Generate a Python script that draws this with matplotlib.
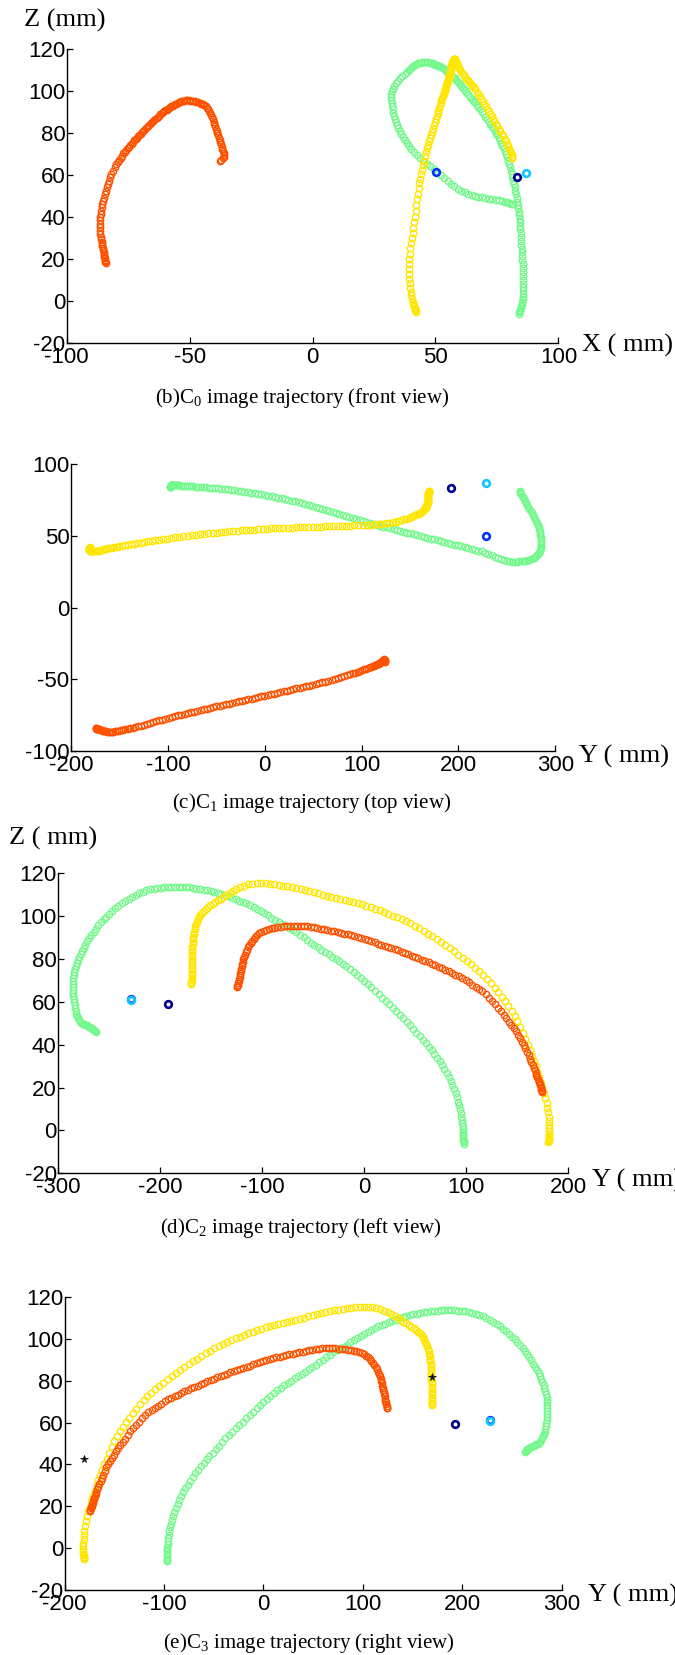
import matplotlib
matplotlib.use('Agg')
import matplotlib.pyplot as plt
from matplotlib import font_manager

# ---------------- data (3-D trajectories, mm) ----------------
ORANGE_Y = [-174.5, -174.1, -173.7, -173.3, -172.9, -172.4, -171.9, -171.4, -170.8, -170.2,
            -169.5, -168.8, -168.0, -167.1, -166.1, -165.0, -163.8, -162.5, -161.1, -159.6,
            -158.0, -156.3, -154.5, -152.6, -150.6, -148.5, -146.3, -144.0, -141.6, -139.1,
            -136.5, -133.8, -131.0, -128.1, -125.1, -122.0, -118.9, -115.7, -112.5, -109.2,
            -105.9, -102.6, -99.3, -96.0, -92.7, -89.4, -86.1, -82.8, -79.5, -76.2,
            -72.9, -69.6, -66.3, -63.0, -59.7, -56.4, -53.1, -49.8, -46.5, -43.2,
            -39.9, -36.6, -33.3, -30.0, -26.7, -23.4, -20.1, -16.8, -13.5, -10.2,
            -6.9, -3.6, -0.3, 3.0, 6.3, 9.6, 12.9, 16.2, 19.5, 22.8,
            26.1, 29.4, 32.7, 36.0, 39.3, 42.6, 45.9, 49.2, 52.5, 55.8,
            59.1, 62.4, 65.7, 69.0, 72.3, 75.6, 78.9, 82.0, 85.0, 88.0,
            90.8, 93.5, 96.1, 98.6, 100.9, 103.0, 105.0, 106.8, 108.5, 110.0,
            111.4, 112.7, 113.9, 115.0, 116.0, 116.9, 117.7, 118.4, 119.0, 119.6,
            120.1, 120.6, 121.0, 121.4, 121.8, 122.2, 122.6, 123.0, 123.4, 123.8,
            124.2, 124.5]
ORANGE_X = [-84.2, -84.3, -84.4, -84.5, -84.6, -84.7, -84.8, -84.9, -85.0, -85.2,
            -85.3, -85.5, -85.6, -85.8, -86.0, -86.1, -86.3, -86.4, -86.5, -86.5,
            -86.5, -86.4, -86.2, -86.0, -85.8, -85.5, -85.2, -84.9, -84.5, -84.1,
            -83.7, -83.3, -82.8, -82.3, -81.8, -81.2, -80.5, -79.9, -79.3, -78.7,
            -78.1, -77.5, -76.9, -76.3, -75.7, -75.2, -74.6, -74.1, -73.5, -73.0,
            -72.5, -72.0, -71.4, -70.9, -70.4, -69.9, -69.4, -68.9, -68.4, -67.9,
            -67.4, -66.9, -66.4, -65.9, -65.4, -64.9, -64.4, -63.9, -63.4, -62.9,
            -62.4, -61.9, -61.4, -60.9, -60.4, -59.9, -59.4, -58.9, -58.4, -57.9,
            -57.4, -56.9, -56.4, -55.9, -55.4, -54.9, -54.4, -53.9, -53.4, -52.8,
            -52.2, -51.6, -51.0, -50.4, -49.8, -49.2, -48.6, -48.0, -47.3, -46.6,
            -45.9, -45.3, -44.7, -44.1, -43.5, -43.0, -42.5, -42.0, -41.6, -41.2,
            -40.8, -40.5, -40.2, -39.9, -39.6, -39.3, -39.0, -38.7, -38.4, -38.1,
            -37.8, -37.5, -37.2, -37.0, -36.7, -36.4, -36.2, -36.1, -36.2, -36.6,
            -37.1, -37.7]
ORANGE_Z = [17.8, 18.4, 19.0, 19.6, 20.2, 21.0, 21.7, 22.5, 23.3, 24.1,
            25.0, 25.9, 26.9, 28.1, 29.3, 30.6, 31.9, 33.4, 35.0, 36.7,
            38.6, 40.0, 41.5, 43.0, 44.6, 46.3, 47.7, 49.2, 50.7, 52.3,
            54.1, 55.8, 57.3, 58.8, 60.4, 62.0, 63.6, 65.0, 66.0, 67.0,
            68.1, 69.1, 70.2, 71.1, 71.9, 72.6, 73.4, 74.2, 74.9, 75.7,
            76.4, 77.0, 77.7, 78.4, 79.0, 79.7, 80.4, 81.0, 81.6, 82.2,
            82.8, 83.4, 84.0, 84.6, 85.1, 85.6, 86.2, 86.7, 87.2, 87.8,
            88.3, 88.8, 89.4, 89.9, 90.3, 90.7, 91.1, 91.5, 91.8, 92.2,
            92.6, 93.0, 93.3, 93.6, 93.9, 94.2, 94.5, 94.8, 95.1, 95.3,
            95.4, 95.5, 95.5, 95.5, 95.4, 95.3, 95.2, 95.0, 94.8, 94.6,
            94.3, 94.0, 93.6, 93.2, 92.7, 92.0, 91.2, 90.4, 89.5, 88.6,
            87.6, 86.5, 85.4, 84.3, 83.2, 82.1, 81.0, 79.9, 78.8, 77.7,
            76.6, 75.5, 74.5, 73.5, 72.5, 71.5, 70.5, 69.6, 68.7, 67.9,
            67.2, 66.8]

YELLOW_Y = [-180.5, -180.6, -180.7, -180.8, -180.9, -181.0, -181.1, -181.2, -181.2, -181.1,
            -180.9, -180.6, -180.1, -179.5, -178.7, -177.6, -176.2, -174.5, -173.0, -171.3,
            -169.6, -167.9, -166.1, -164.2, -162.2, -160.1, -157.8, -155.4, -152.8, -150.1,
            -147.3, -144.4, -141.3, -138.1, -134.8, -131.4, -127.9, -124.3, -120.6, -116.8,
            -112.9, -108.9, -104.8, -100.7, -96.5, -92.3, -88.1, -83.9, -79.6, -75.3,
            -71.0, -66.7, -62.4, -58.1, -53.8, -49.5, -45.2, -40.9, -36.6, -32.3,
            -28.0, -23.7, -19.4, -15.1, -10.8, -6.5, -2.2, 2.1, 6.4, 10.7,
            15.0, 19.3, 23.6, 27.9, 32.2, 36.5, 40.8, 45.1, 49.4, 53.7,
            58.0, 62.3, 66.6, 70.9, 75.2, 79.5, 83.8, 88.1, 92.4, 96.7,
            101.0, 105.3, 109.5, 113.6, 117.6, 121.5, 125.2, 128.7, 132.0, 135.1,
            138.0, 140.8, 143.5, 146.1, 148.6, 151.0, 153.3, 155.4, 157.3, 159.0,
            160.5, 161.8, 162.9, 163.9, 164.8, 165.5, 166.1, 166.6, 167.0, 167.4,
            167.7, 168.0, 168.2, 168.4, 168.6, 168.7, 168.8, 168.9, 169.0, 169.0,
            169.0, 169.0, 169.0, 169.0, 169.0, 169.1, 169.2, 169.3, 169.4, 169.5]
YELLOW_X = [42.0, 41.9, 41.8, 41.7, 41.5, 41.3, 41.0, 40.7, 40.4, 40.2,
            40.0, 39.8, 39.6, 39.4, 39.3, 39.2, 39.2, 39.3, 39.5, 39.8,
            40.1, 40.4, 40.7, 41.0, 41.3, 41.6, 41.9, 42.2, 42.5, 42.8,
            43.1, 43.4, 43.8, 44.2, 44.6, 45.0, 45.4, 45.8, 46.2, 46.6,
            47.0, 47.4, 47.8, 48.2, 48.6, 49.0, 49.4, 49.8, 50.2, 50.6,
            50.9, 51.2, 51.5, 51.8, 52.1, 52.4, 52.7, 53.0, 53.3, 53.5,
            53.7, 53.9, 54.1, 54.3, 54.5, 54.7, 54.9, 55.1, 55.3, 55.5,
            55.6, 55.7, 55.8, 55.9, 56.0, 56.1, 56.2, 56.3, 56.4, 56.5,
            56.6, 56.7, 56.8, 56.9, 57.0, 57.1, 57.2, 57.3, 57.4, 57.5,
            57.6, 57.7, 57.9, 58.1, 58.3, 58.6, 58.9, 59.2, 59.6, 60.0,
            60.5, 61.0, 61.5, 62.0, 62.6, 63.2, 63.8, 64.4, 65.0, 65.6,
            66.2, 66.8, 67.4, 68.0, 68.6, 69.2, 69.8, 70.4, 71.0, 71.6,
            72.2, 72.8, 73.4, 74.0, 74.6, 75.2, 75.8, 76.4, 77.0, 77.6,
            78.1, 78.6, 79.1, 79.6, 80.0, 80.4, 80.7, 81.0, 81.2, 81.3]
YELLOW_Z = [-5.2, -4.9, -4.5, -4.0, -3.4, -2.6, -1.6, -0.4, 1.0, 2.6,
            4.4, 6.3, 8.4, 10.6, 12.9, 15.3, 17.6, 19.8, 22.3, 25.0,
            27.5, 30.0, 32.5, 34.9, 37.4, 40.0, 42.6, 45.6, 48.4, 51.0,
            53.6, 55.9, 58.0, 60.2, 62.4, 64.6, 66.7, 68.8, 70.9, 72.6,
            74.3, 76.0, 77.6, 79.1, 80.6, 82.1, 83.6, 85.1, 86.5, 87.9,
            89.3, 90.6, 91.9, 93.1, 94.3, 95.5, 96.7, 97.7, 98.6, 99.4,
            100.2, 101.0, 101.9, 102.7, 103.4, 104.1, 104.8, 105.5, 106.2, 106.7,
            107.2, 107.6, 108.0, 108.4, 108.9, 109.5, 110.1, 110.7, 111.3, 111.8,
            112.3, 112.8, 113.2, 113.6, 114.0, 114.3, 114.6, 114.9, 115.1, 115.3,
            115.4, 115.4, 115.2, 114.8, 114.2, 113.5, 112.7, 111.9, 111.0, 110.1,
            109.1, 108.2, 107.4, 106.6, 105.9, 105.2, 104.4, 103.5, 102.6, 101.7,
            100.7, 99.7, 98.6, 97.5, 96.4, 95.2, 94.0, 92.8, 91.6, 90.4,
            89.2, 88.0, 86.8, 85.6, 84.4, 83.2, 82.0, 80.8, 79.6, 78.4,
            77.2, 76.0, 74.8, 73.6, 72.4, 71.3, 70.3, 69.4, 68.7, 68.2]

GREEN_Y = [-97.3, -97.3, -97.3, -97.2, -97.2, -97.1, -97.0, -96.9, -96.7, -96.5,
           -96.2, -95.8, -95.3, -94.7, -93.9, -93.0, -92.0, -90.8, -89.5, -88.0,
           -86.4, -84.6, -82.7, -80.7, -78.5, -76.2, -73.8, -71.3, -68.7, -66.0,
           -63.2, -60.3, -57.3, -54.3, -51.2, -48.0, -44.8, -41.5, -38.2, -34.8,
           -31.4, -28.0, -24.5, -21.0, -17.5, -14.0, -10.5, -7.0, -3.5, 0.0,
           3.5, 7.0, 10.5, 14.0, 17.5, 21.0, 24.5, 28.0, 31.5, 35.0,
           38.5, 42.0, 45.5, 49.0, 52.5, 56.0, 59.5, 63.0, 66.5, 70.0,
           73.5, 77.0, 80.5, 84.0, 87.5, 91.0, 94.5, 98.0, 101.5, 105.0,
           108.5, 112.0, 115.5, 119.0, 122.5, 126.0, 129.5, 133.0, 136.5, 140.0,
           143.5, 147.0, 150.5, 154.0, 157.5, 161.0, 164.5, 168.0, 171.5, 175.0,
           178.5, 182.0, 185.5, 189.0, 192.5, 196.0, 199.5, 203.0, 206.5, 210.0,
           213.5, 217.0, 220.5, 224.0, 227.5, 231.0, 234.4, 237.7, 240.9, 244.0,
           247.0, 249.9, 252.7, 255.4, 258.0, 260.5, 262.9, 265.2, 267.4, 269.5,
           271.5, 273.3, 275.0, 276.6, 278.0, 279.3, 280.5, 281.6, 282.6, 283.4,
           284.1, 284.7, 285.1, 285.4, 285.5, 285.5, 285.4, 285.2, 285.0, 284.7,
           284.3, 283.9, 283.4, 282.8, 282.1, 281.3, 280.4, 279.4, 278.3, 277.1,
           275.8, 274.5, 273.2, 271.9, 270.6, 269.4, 268.3, 267.3, 266.4, 265.5,
           264.7, 264.0, 263.5, 263.2]
GREEN_X = [83.9, 84.1, 84.3, 84.5, 84.7, 84.9, 85.1, 85.3, 85.4, 85.5,
           85.6, 85.6, 85.6, 85.6, 85.6, 85.6, 85.6, 85.5, 85.4, 85.3,
           85.2, 85.1, 85.0, 84.9, 84.8, 84.7, 84.6, 84.5, 84.4, 84.3,
           84.2, 84.0, 83.8, 83.6, 83.4, 83.2, 83.0, 82.8, 82.5, 82.2,
           81.9, 81.6, 81.3, 81.0, 80.6, 80.2, 79.8, 79.4, 79.0, 78.6,
           78.2, 77.7, 77.2, 76.7, 76.2, 75.7, 75.2, 74.7, 74.1, 73.5,
           72.9, 72.3, 71.7, 71.0, 70.3, 69.6, 68.9, 68.2, 67.5, 66.8,
           66.1, 65.4, 64.7, 64.0, 63.3, 62.6, 61.9, 61.2, 60.5, 59.8,
           59.1, 58.4, 57.8, 57.2, 56.6, 56.0, 55.4, 54.8, 54.2, 53.6,
           53.0, 52.4, 51.8, 51.2, 50.6, 50.0, 49.4, 48.8, 48.2, 47.6,
           47.0, 46.4, 45.8, 45.2, 44.6, 44.0, 43.4, 42.8, 42.2, 41.6,
           41.0, 40.4, 39.8, 39.2, 38.4, 37.5, 36.5, 35.5, 34.6, 33.8,
           33.1, 32.6, 32.2, 32.0, 32.0, 32.1, 32.2, 32.4, 32.6, 32.8,
           33.1, 33.5, 33.9, 34.4, 34.9, 35.5, 36.1, 36.8, 37.5, 38.3,
           39.2, 40.2, 41.3, 42.5, 43.8, 45.1, 46.5, 47.9, 49.3, 50.7,
           52.1, 53.5, 54.9, 56.3, 57.7, 59.1, 60.5, 61.9, 63.3, 64.7,
           66.1, 67.5, 68.9, 70.3, 71.7, 73.1, 74.5, 75.8, 77.0, 78.1,
           79.1, 80.0, 80.8, 81.4]
GREEN_Z = [-6.1, -5.6, -5.0, -4.3, -3.5, -2.6, -1.6, -0.5, 0.7, 2.0,
           3.4, 4.9, 6.5, 8.2, 9.9, 11.7, 13.5, 15.4, 17.3, 19.2,
           21.1, 23.0, 24.9, 26.8, 28.6, 30.4, 32.2, 34.0, 35.7, 37.4,
           39.1, 40.8, 42.4, 44.0, 45.6, 47.3, 49.0, 50.7, 52.4, 54.0,
           55.6, 57.2, 58.8, 60.4, 62.0, 63.6, 65.2, 66.8, 68.3, 69.8,
           71.2, 72.6, 74.0, 75.4, 76.6, 77.8, 79.0, 80.1, 81.1, 82.2,
           83.3, 84.4, 85.5, 86.6, 87.7, 88.9, 90.1, 91.3, 92.5, 93.5,
           94.5, 95.4, 96.3, 97.3, 98.4, 99.3, 100.4, 101.4, 102.4, 103.4,
           104.4, 105.3, 106.0, 106.6, 107.3, 107.9, 108.6, 109.2, 109.9, 110.5,
           111.0, 111.4, 111.7, 112.0, 112.3, 112.6, 112.9, 113.2, 113.4, 113.5,
           113.6, 113.7, 113.7, 113.7, 113.6, 113.5, 113.3, 113.1, 112.8, 112.5,
           112.0, 111.4, 110.7, 109.9, 109.0, 108.1, 107.1, 106.0, 104.8, 103.6,
           102.4, 101.1, 99.8, 98.5, 97.1, 95.7, 94.2, 92.7, 91.2, 89.7,
           88.2, 86.7, 85.2, 83.7, 82.2, 80.8, 79.4, 78.0, 76.6, 75.2,
           73.8, 72.4, 71.0, 69.6, 68.2, 66.8, 65.4, 64.0, 62.6, 61.2,
           59.8, 58.4, 57.0, 55.7, 54.5, 53.4, 52.4, 51.6, 50.9, 50.3,
           49.9, 49.6, 49.3, 49.0, 48.7, 48.4, 48.1, 47.8, 47.5, 47.2,
           46.9, 46.6, 46.3, 46.1]

# reference points (X, Y, Z)
NAVY_PT = [83.3, 192.5, 59.2]
BLUE_PT = [50.2, 228.2, 61.2]
CYAN_PT = [87.0, 228.2, 60.8]
# black markers in the right view (Y, Z)
STAR_Y = [-180.5, 169.7]
STAR_Z = [42.4, 81.9]

TICKS_P1_X = [-100, -50, 0, 50, 100]
TICKS_Z = [-20, 0, 20, 40, 60, 80, 100, 120]
TICKS_Y_A = [-200, -100, 0, 100, 200, 300]
TICKS_P2_V = [-100, -50, 0, 50, 100]
TICKS_Y_B = [-300, -200, -100, 0, 100, 200]

# ---------------- style ----------------
names = {f.name for f in font_manager.fontManager.ttflist}
TICK_FONT = 'Liberation Sans Narrow' if 'Liberation Sans Narrow' in names else 'Liberation Sans'
SERIF = 'Liberation Serif'
plt.rcParams['font.family'] = [TICK_FONT, 'DejaVu Sans']
plt.rcParams['axes.unicode_minus'] = False
plt.rcParams['mathtext.fontset'] = 'custom'
plt.rcParams['mathtext.rm'] = SERIF
plt.rcParams['mathtext.it'] = SERIF + ':italic'

C_OR = '#FF5200'
C_YE = '#FFE600'
C_GR = '#74F98C'
C_NAVY = '#00008F'
C_BLUE = '#0035FF'
C_CYAN = '#10C8FF'

W, H = 675.0, 1655.0
fig = plt.figure(figsize=(W / 100, H / 100), dpi=100)


def add_ax(x0, x1, ytop, ybot):
    return fig.add_axes([x0 / W, 1 - ybot / H, (x1 - x0) / W, (ybot - ytop) / H])


def style(ax, xl, yl, xt, yt):
    ax.set_xlim(*xl)
    ax.set_ylim(*yl)
    ax.set_xticks(xt)
    ax.set_yticks(yt)
    for s in ('top', 'right'):
        ax.spines[s].set_visible(False)
    for s in ('left', 'bottom'):
        ax.spines[s].set_linewidth(1.0)
    ax.tick_params(direction='in', length=4, width=0.9, labelsize=16)
    ax.tick_params(axis='x', pad=3)
    ax.tick_params(axis='y', pad=1.0)
    ax.set_facecolor('none')


def traj(ax, h, v, color):
    ax.plot(h, v, linestyle='none', marker='o', mfc='none', mec=color,
            ms=4.6, mew=1.0, clip_on=False)


def pt(ax, h, v, color):
    ax.plot([h], [v], linestyle='none', marker='o', mfc='none', mec=color,
            ms=4.8, mew=1.9, clip_on=False)


def neg(vals):
    return [-v for v in vals]


# (b) front view: X vs Z
ax1 = add_ax(66.7, 558.4, 49, 342.7)
style(ax1, (-100, 100), (-20, 120), TICKS_P1_X, TICKS_Z)
traj(ax1, GREEN_X, GREEN_Z, C_GR)
traj(ax1, YELLOW_X, YELLOW_Z, C_YE)
traj(ax1, ORANGE_X, ORANGE_Z, C_OR)
pt(ax1, BLUE_PT[0], BLUE_PT[2], C_BLUE)
pt(ax1, NAVY_PT[0], NAVY_PT[2], C_NAVY)
pt(ax1, CYAN_PT[0], CYAN_PT[2], C_CYAN)

# (c) top view: Y vs X
ax2 = add_ax(71, 555.3, 464.3, 751)
style(ax2, (-200, 300), (-100, 100), TICKS_Y_A, TICKS_P2_V)
traj(ax2, GREEN_Y, GREEN_X, C_GR)
traj(ax2, YELLOW_Y, YELLOW_X, C_YE)
traj(ax2, ORANGE_Y, ORANGE_X, C_OR)
pt(ax2, BLUE_PT[1], BLUE_PT[0], C_BLUE)
pt(ax2, NAVY_PT[1], NAVY_PT[0], C_NAVY)
pt(ax2, CYAN_PT[1], CYAN_PT[0], C_CYAN)

# (d) left view: -Y vs Z
ax3 = add_ax(58.1, 568.3, 873.3, 1173.3)
style(ax3, (-300, 200), (-20, 120), TICKS_Y_B, TICKS_Z)
traj(ax3, neg(GREEN_Y), GREEN_Z, C_GR)
traj(ax3, neg(YELLOW_Y), YELLOW_Z, C_YE)
traj(ax3, neg(ORANGE_Y), ORANGE_Z, C_OR)
pt(ax3, -BLUE_PT[1], BLUE_PT[2], C_BLUE)
pt(ax3, -CYAN_PT[1], CYAN_PT[2], C_CYAN)
pt(ax3, -NAVY_PT[1], NAVY_PT[2], C_NAVY)

# (e) right view: Y vs Z
ax4 = add_ax(64.6, 561.8, 1297, 1590)
style(ax4, (-200, 300), (-20, 120), TICKS_Y_A, TICKS_Z)
traj(ax4, GREEN_Y, GREEN_Z, C_GR)
traj(ax4, YELLOW_Y, YELLOW_Z, C_YE)
traj(ax4, ORANGE_Y, ORANGE_Z, C_OR)
pt(ax4, BLUE_PT[1], BLUE_PT[2], C_BLUE)
pt(ax4, CYAN_PT[1], CYAN_PT[2], C_CYAN)
pt(ax4, NAVY_PT[1], NAVY_PT[2], C_NAVY)
ax4.plot(STAR_Y, STAR_Z, linestyle='none', marker='*', color='#111111',
         ms=5.5, mew=0.6, clip_on=False)


def ftext(x, y, s, size, ha='left'):
    fig.text(x / W, 1 - y / H, s, family=SERIF, fontsize=size,
             ha=ha, va='center')


ftext(23.7, 20, 'Z (mm)', 19)
ftext(582, 345, 'X ( mm)', 19)
ftext(302, 398, r'(b)C$_\mathrm{0}$ image trajectory (front view)', 15, 'center')

ftext(579, 756.7, 'Y ( mm)', 19)
ftext(312, 803.3, r'(c)C$_\mathrm{1}$ image trajectory (top view)', 15, 'center')

ftext(8.6, 838, 'Z ( mm)', 19)
ftext(592, 1180, 'Y ( mm)', 19)
ftext(301, 1228, r'(d)C$_\mathrm{2}$ image trajectory (left view)', 15, 'center')

ftext(587.6, 1595, 'Y ( mm)', 19)
ftext(309, 1643, r'(e)C$_\mathrm{3}$ image trajectory (right view)', 15, 'center')

fig.savefig('out.png', dpi=100, facecolor='white')
